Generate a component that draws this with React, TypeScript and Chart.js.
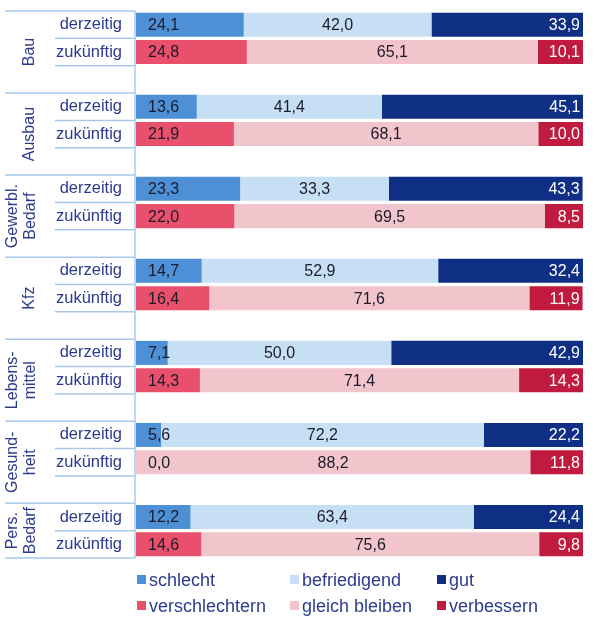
import React, { useEffect, useRef } from 'react';
import { Chart, registerables } from 'chart.js';
Chart.register(...registerables);

const sectors: string[][] = [['Bau'], ['Ausbau'], ['Gewerbl.', 'Bedarf'], ['Kfz'], ['Lebens-', 'mittel'], ['Gesund-', 'heit'], ['Pers.', 'Bedarf']];
const rowNames = ['derzeitig', 'zukünftig'];

const schlecht = [24.1, 13.6, 23.3, 14.7, 7.1, 5.6, 12.2];
const befriedigend = [42.0, 41.4, 33.3, 52.9, 50.0, 72.2, 63.4];
const gut = [33.9, 45.1, 43.3, 32.4, 42.9, 22.2, 24.4];
const verschlechtern = [24.8, 21.9, 22.0, 16.4, 14.3, 0.0, 14.6];
const gleichBleiben = [65.1, 68.1, 69.5, 71.6, 71.4, 88.2, 75.6];
const verbessern = [10.1, 10.0, 8.5, 11.9, 14.3, 11.8, 9.8];

const seriesNames = ['schlecht', 'befriedigend', 'gut', 'verschlechtern', 'gleich bleiben', 'verbessern'];
const seriesColors = ['#4d90d5', '#c6dff4', '#0f2f84', '#e8506b', '#f2c4cc', '#c01a3e'];

const TEXT_BLUE = '#2d3b8c';
const LINE_BLUE = '#a9c9ea';
const FONT = 'Arial, "Liberation Sans", sans-serif';

// build rows
const rowLabels: string[] = [];
const groupStart: number[] = [];
sectors.forEach((s, i) => {
  groupStart.push(rowLabels.length);
  rowLabels.push(rowNames[0], rowNames[1]);
  if (i < sectors.length - 1) rowLabels.push('');
});
const nRows = rowLabels.length;

function buildRow(values: number[], which: number): (number | null)[] {
  const arr: (number | null)[] = new Array(nRows).fill(null);
  values.forEach((v, g) => { arr[groupStart[g] + which] = v; });
  return arr;
}

const seriesValues = [schlecht, befriedigend, gut, verschlechtern, gleichBleiben, verbessern];
const seriesRow = [0, 0, 0, 1, 1, 1];
const seriesKind = ['first', 'mid', 'last', 'first', 'mid', 'last'];
const seriesText = ['#1b1b2b', '#1b1b2b', '#ffffff', '#1b1b2b', '#1b1b2b', '#ffffff'];

const fmt = (v: number) => v.toFixed(1).replace('.', ',');

const valueLabels = {
  id: 'valueLabels',
  afterDatasetsDraw(chart: any) {
    const ctx = chart.ctx;
    ctx.save();
    ctx.font = `16px ${FONT}`;
    ctx.textBaseline = 'middle';
    chart.data.datasets.forEach((ds: any, di: number) => {
      const meta = chart.getDatasetMeta(di);
      meta.data.forEach((el: any, idx: number) => {
        const v = ds.data[idx];
        if (v === null || v === undefined) return;
        const { x, base, y } = el.getProps(['x', 'base', 'y'], true);
        const left = Math.min(x, base);
        const right = Math.max(x, base);
        const kind = seriesKind[di];
        ctx.fillStyle = seriesText[di];
        const t = fmt(v);
        if (kind === 'first') {
          ctx.textAlign = 'left';
          ctx.fillText(t, left + 12, y + 1);
        } else if (kind === 'mid') {
          ctx.textAlign = 'center';
          ctx.fillText(t, (left + right) / 2, y + 1);
        } else {
          ctx.textAlign = 'right';
          ctx.fillText(t, right - 3, y + 1);
        }
      });
    });
    ctx.restore();
  },
};

const framePlugin = {
  id: 'frame',
  afterDraw(chart: any) {
    const ctx = chart.ctx;
    const area = chart.chartArea;
    const rowH = (area.bottom - area.top) / nRows;
    const yB = (r: number) => area.top + r * rowH;
    const axisX = area.left - 1;
    ctx.save();
    ctx.strokeStyle = LINE_BLUE;
    ctx.lineWidth = 1.5;
    const line = (x1: number, y1: number, x2: number, y2: number) => {
      ctx.beginPath();
      ctx.moveTo(x1, y1);
      ctx.lineTo(x2, y2);
      ctx.stroke();
    };
    line(axisX, area.top, axisX, area.bottom);
    sectors.forEach((s, g) => {
      const st = groupStart[g];
      line(5, yB(st), axisX, yB(st));
      line(55, yB(st + 1), axisX, yB(st + 1));
      if (g === sectors.length - 1) line(5, yB(st + 2), axisX, yB(st + 2));
      else line(55, yB(st + 2), axisX, yB(st + 2));
    });
    // group labels
    ctx.fillStyle = TEXT_BLUE;
    ctx.font = `16px ${FONT}`;
    ctx.textAlign = 'center';
    ctx.textBaseline = 'middle';
    sectors.forEach((lines, g) => {
      const st = groupStart[g];
      const end = g === sectors.length - 1 ? st + 2 : st + 3;
      const cy = (yB(st) + yB(end)) / 2;
      const xs = lines.length === 1 ? [30] : [13, 31];
      lines.forEach((l, li) => {
        ctx.save();
        ctx.translate(xs[li], cy);
        ctx.rotate(-Math.PI / 2);
        ctx.fillText(l, 0, 0);
        ctx.restore();
      });
    });
    // legend
    const cols = [137, 290, 437];
    const rowsY = [580, 606];
    ctx.font = `18px ${FONT}`;
    ctx.textAlign = 'left';
    seriesNames.forEach((n, i) => {
      const c = i % 3;
      const r = Math.floor(i / 3);
      const x = cols[c];
      const y = rowsY[r];
      ctx.fillStyle = seriesColors[i];
      ctx.fillRect(x, y - 5, 9, 9);
      ctx.fillStyle = TEXT_BLUE;
      ctx.fillText(n, x + 12, y + 1);
    });
    ctx.restore();
  },
};

export default function App() {
  const ref = useRef<HTMLCanvasElement | null>(null);
  useEffect(() => {
    if (!ref.current) return;
    const datasets = seriesNames.map((n, i) => ({
      label: n,
      data: buildRow(seriesValues[i], seriesRow[i]),
      backgroundColor: seriesColors[i],
      borderWidth: 0,
      barPercentage: 0.88,
      categoryPercentage: 1,
      stack: 's',
    }));
    const chart = new Chart(ref.current, {
      type: 'bar',
      data: { labels: rowLabels, datasets },
      options: {
        indexAxis: 'y',
        responsive: false,
        animation: false,
        devicePixelRatio: 1,
        layout: { padding: { left: 0, right: 13, top: 11, bottom: 59 } },
        plugins: { legend: { display: false }, tooltip: { enabled: false } },
        scales: {
          x: { display: false, stacked: true, min: 0, max: 100 },
          y: {
            stacked: true,
            grid: { display: false },
            border: { display: false },
            ticks: { color: TEXT_BLUE, font: { size: 16.5, family: FONT }, padding: 6, autoSkip: false },
            afterFit: (scale: any) => {
              scale.width = 136;
              scale.paddingTop = 0;
              scale.paddingBottom = 0;
            },
          },
        },
      } as any,
      plugins: [valueLabels, framePlugin],
    });
    return () => chart.destroy();
  }, []);
  return (
    <div style={{ position: 'fixed', left: 0, top: 0, width: 596, height: 617, background: '#fff' }}>
      <canvas ref={ref} width={596} height={617} style={{ width: 596, height: 617 }} />
    </div>
  );
}
